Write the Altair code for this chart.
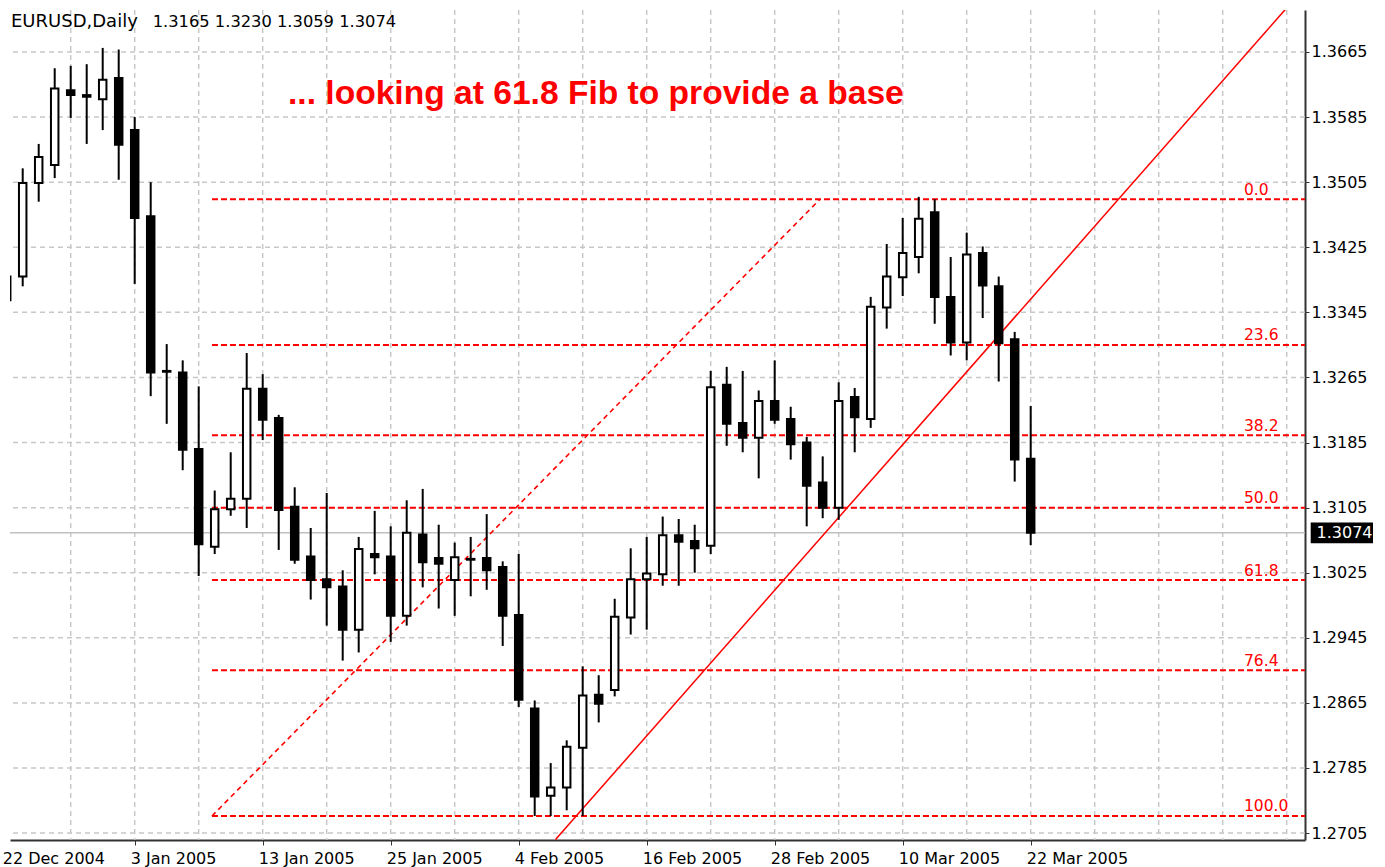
import altair as alt
import pandas as pd

# ---------------- data ----------------
opens = [1.3360, 1.3389, 1.3504, 1.3526, 1.3618, 1.3612, 1.3607, 1.3633, 1.3569, 1.3463,
         1.3273, 1.3271, 1.3177, 1.3057, 1.3103, 1.3116, 1.3251, 1.3215, 1.3106, 1.3045,
         1.3017, 1.3008, 1.2955, 1.3048, 1.3045, 1.2972, 1.3072, 1.3043, 1.3016, 1.3042,
         1.3043, 1.3032, 1.2973, 1.2858, 1.2751, 1.2761, 1.2810, 1.2875, 1.2881, 1.2970,
         1.3017, 1.3023, 1.3071, 1.3064, 1.3058, 1.3256, 1.3209, 1.3191, 1.3236, 1.3214,
         1.3185, 1.3136, 1.3105, 1.3241, 1.3214, 1.3351, 1.3388, 1.3413, 1.3468, 1.3364,
         1.3308, 1.3418, 1.3377, 1.3312, 1.3165]
highs = [1.3395, 1.3522, 1.3552, 1.3645, 1.3648, 1.3650, 1.3670, 1.3668, 1.3585, 1.3505,
         1.3306, 1.3286, 1.3254, 1.3126, 1.3173, 1.3295, 1.3269, 1.3219, 1.3130, 1.3080,
         1.3123, 1.3028, 1.3069, 1.3101, 1.3082, 1.3114, 1.3128, 1.3084, 1.3062, 1.3069,
         1.3097, 1.3039, 1.3048, 1.2868, 1.2791, 1.2819, 1.2910, 1.2899, 1.2993, 1.3055,
         1.3069, 1.3094, 1.3091, 1.3084, 1.3273, 1.3278, 1.3273, 1.3249, 1.3286, 1.3229,
         1.3192, 1.3168, 1.3259, 1.3252, 1.3364, 1.3429, 1.3461, 1.3487, 1.3484, 1.3413,
         1.3443, 1.3426, 1.3389, 1.3321, 1.3230]
lows = [1.3352, 1.3377, 1.3481, 1.3510, 1.3584, 1.3552, 1.3569, 1.3508, 1.3380, 1.3242,
        1.3208, 1.3151, 1.3021, 1.3048, 1.3095, 1.3080, 1.3188, 1.3053, 1.3036, 1.2992,
        1.2960, 1.2917, 1.2927, 1.3023, 1.2940, 1.2960, 1.3007, 1.2981, 1.2972, 1.2996,
        1.3004, 1.2935, 1.2860, 1.2726, 1.2726, 1.2733, 1.2726, 1.2841, 1.2873, 1.2949,
        1.2955, 1.3009, 1.3009, 1.3025, 1.3048, 1.3181, 1.3173, 1.3141, 1.3208, 1.3164,
        1.3082, 1.3092, 1.3090, 1.3173, 1.3203, 1.3325, 1.3365, 1.3393, 1.3331, 1.3292,
        1.3286, 1.3338, 1.3260, 1.3137, 1.3059]
closes = [1.3389, 1.3504, 1.3536, 1.3620, 1.3612, 1.3610, 1.3631, 1.3551, 1.3461, 1.3271,
          1.3272, 1.3176, 1.3060, 1.3103, 1.3116, 1.3251, 1.3213, 1.3102, 1.3041, 1.3016,
          1.3007, 1.2955, 1.3054, 1.3044, 1.2972, 1.3074, 1.3038, 1.3036, 1.3044, 1.3041,
          1.3028, 1.2972, 1.2869, 1.2750, 1.2761, 1.2811, 1.2874, 1.2864, 1.2971, 1.3017,
          1.3024, 1.3071, 1.3063, 1.3055, 1.3253, 1.3208, 1.3191, 1.3236, 1.3213, 1.3183,
          1.3132, 1.3105, 1.3236, 1.3216, 1.3352, 1.3389, 1.3418, 1.3460, 1.3364, 1.3308,
          1.3416, 1.3378, 1.3307, 1.3164, 1.3074]

tick_index = [0, 8, 16, 24, 32, 40, 48, 56, 64]
tick_labels = ["22 Dec 2004", "3 Jan 2005", "13 Jan 2005", "25 Jan 2005", "4 Feb 2005",
               "16 Feb 2005", "28 Feb 2005", "10 Mar 2005", "22 Mar 2005"]
vgrid_index = [4, 8, 12, 16, 20, 24, 28, 32, 36, 40, 44, 48, 52, 56, 60, 64, 68, 72, 76, 80]
price_ticks = [1.2705, 1.2785, 1.2865, 1.2945, 1.3025, 1.3105, 1.3185, 1.3265,
               1.3345, 1.3425, 1.3505, 1.3585, 1.3665]

fib_names = ["0.0", "23.6", "38.2", "50.0", "61.8", "76.4", "100.0"]
fib_prices = [1.3484, 1.3305, 1.3194, 1.3105, 1.3016, 1.2905, 1.2726]
fib_anchor_x = [12.83, 50.83]
fib_anchor_y = [1.2726, 1.3484]
trend_x = [34.3, 79.9]
trend_y = [1.2697, 1.3717]
current_price = 1.3074

symbol_text = "EURUSD,Daily"
note_text = "... looking at 61.8 Fib to provide a base"

# ---------------- layout ----------------
W, H = 1295, 830
X_DOM = [0.206, 81.144]
Y_DOM = [1.26965, 1.37166]
FONT = "DejaVu Sans"
GRID = "#c8c8c8"
RED = "#ff0000"

xs = alt.Scale(domain=X_DOM, nice=False, zero=False)
ys = alt.Scale(domain=Y_DOM, nice=False, zero=False)

x_axis = alt.Axis(orient="bottom", values=tick_index[1:], title=None, grid=False,
                  labels=False, tickSize=5, tickColor="#333333",
                  domainColor="#333333", domainWidth=2)
y_axis = alt.Axis(orient="right", values=price_ticks, format=".4f", title=None, grid=False,
                  tickSize=4, tickColor="#333333", domainColor="#333333", domainWidth=2,
                  labelPadding=2, labelBaseline="middle", labelFont=FONT,
                  labelFontSize=16, labelColor="black", labelOverlap=False)

n = len(opens)
candles = pd.DataFrame({
    "i": list(range(n)), "o": opens, "h": highs, "l": lows, "c": closes,
})
candles["up"] = candles["c"] >= candles["o"]
candles["top"] = candles[["o", "c"]].max(axis=1)
candles["bot"] = candles[["o", "c"]].min(axis=1)
candles["xl"] = candles["i"] - 0.234
candles["xr"] = candles["i"] + 0.234

hgrid = alt.Chart(pd.DataFrame({"p": price_ticks})).mark_rule(
    color=GRID, strokeDash=[5, 4], strokeWidth=1.5
).encode(y=alt.Y("p:Q", scale=ys, axis=y_axis))

vgrid = alt.Chart(pd.DataFrame({"i": vgrid_index})).mark_rule(
    color=GRID, strokeDash=[5, 4], strokeWidth=1.5
).encode(x=alt.X("i:Q", scale=xs, axis=x_axis))

cur_df = pd.DataFrame({"p": [current_price], "t": [f"{current_price:.4f}"],
                       "p1": [current_price + 0.00127], "p2": [current_price - 0.00127]})
cur_line = alt.Chart(cur_df).mark_rule(color="#c0c0c0", strokeWidth=1.5).encode(
    y=alt.Y("p:Q", scale=ys, axis=y_axis))

fib_df = pd.DataFrame({"p": fib_prices, "name": fib_names,
                       "x0": [fib_anchor_x[0]] * len(fib_prices),
                       "x1": [X_DOM[1]] * len(fib_prices)})
fib_lines = alt.Chart(fib_df).mark_rule(color=RED, strokeDash=[6, 3], strokeWidth=2, clip=True).encode(
    x=alt.X("x0:Q", scale=xs, axis=x_axis), x2="x1:Q", y=alt.Y("p:Q", scale=ys, axis=y_axis))
fib_text = alt.Chart(fib_df).mark_text(
    color=RED, font=FONT, fontSize=15.5, align="left", baseline="alphabetic", dy=-4.5
).encode(x=alt.value(1234), y=alt.Y("p:Q", scale=ys, axis=y_axis), text="name:N")

diag = alt.Chart(pd.DataFrame({"x": fib_anchor_x, "y": fib_anchor_y})).mark_line(
    color=RED, strokeDash=[5, 4], strokeWidth=1.6, clip=True
).encode(x=alt.X("x:Q", scale=xs, axis=x_axis), y=alt.Y("y:Q", scale=ys, axis=y_axis))

trend = alt.Chart(pd.DataFrame({"x": trend_x, "y": trend_y})).mark_line(
    color=RED, strokeWidth=1.5, clip=True
).encode(x=alt.X("x:Q", scale=xs, axis=x_axis), y=alt.Y("y:Q", scale=ys, axis=y_axis))

wicks = alt.Chart(candles).mark_rule(color="black", strokeWidth=2, clip=True).encode(
    x=alt.X("i:Q", scale=xs, axis=x_axis),
    y=alt.Y("l:Q", scale=ys, axis=y_axis), y2="h:Q")

bodies = alt.Chart(candles).mark_rect(stroke="black", strokeWidth=2, clip=True).encode(
    x=alt.X("xl:Q", scale=xs, axis=x_axis), x2="xr:Q",
    y=alt.Y("top:Q", scale=ys, axis=y_axis), y2="bot:Q",
    fill=alt.condition("datum.up", alt.value("white"), alt.value("black")))

cur_box = alt.Chart(cur_df).mark_rect(fill="black").encode(
    x=alt.value(1300.7), x2=alt.value(1363),
    y=alt.Y("p1:Q", scale=ys, axis=y_axis), y2="p2:Q")
cur_text = alt.Chart(cur_df).mark_text(
    color="white", font=FONT, fontSize=16, align="left", baseline="middle"
).encode(x=alt.value(1306.5), y=alt.Y("p:Q", scale=ys, axis=y_axis), text="t:N")

date_df = pd.DataFrame({"i": tick_index, "t": tick_labels})
date_labels = alt.Chart(date_df).mark_text(
    font=FONT, fontSize=16, align="left", baseline="top", dx=-4, color="black"
).encode(x=alt.X("i:Q", scale=xs, axis=x_axis), y=alt.value(H + 11), text="t:N")

ohlc_text = " ".join(f"{v:.4f}" for v in [opens[-1], highs[-1], lows[-1], closes[-1]])
title_df = pd.DataFrame({"a": [symbol_text], "b": [ohlc_text], "n": [note_text]})
title_sym = alt.Chart(title_df).mark_text(
    font=FONT, fontSize=18, align="left", baseline="alphabetic", color="black"
).encode(x=alt.value(1.0), y=alt.value(17), text="a:N")
title_num = alt.Chart(title_df).mark_text(
    font=FONT, fontSize=16.3, align="left", baseline="alphabetic", color="black"
).encode(x=alt.value(142.7), y=alt.value(17), text="b:N")
note = alt.Chart(title_df).mark_text(
    font="Liberation Sans", fontWeight="bold", fontSize=33.6, align="left",
    baseline="alphabetic", color=RED
).encode(x=alt.value(278), y=alt.value(94), text="n:N")

chart = alt.layer(
    hgrid, vgrid, cur_line, fib_lines, diag, trend, wicks, bodies,
    fib_text, cur_box, cur_text, date_labels, title_sym, title_num, note
).properties(
    width=W, height=H,
    autosize=alt.AutoSizeParams(type="none"),
    padding={"left": 10, "top": 10, "right": 80, "bottom": 27},
    background="white",
).configure_view(stroke=None)

chart.save("out.html", embed_options={"renderer": "svg", "actions": False})
